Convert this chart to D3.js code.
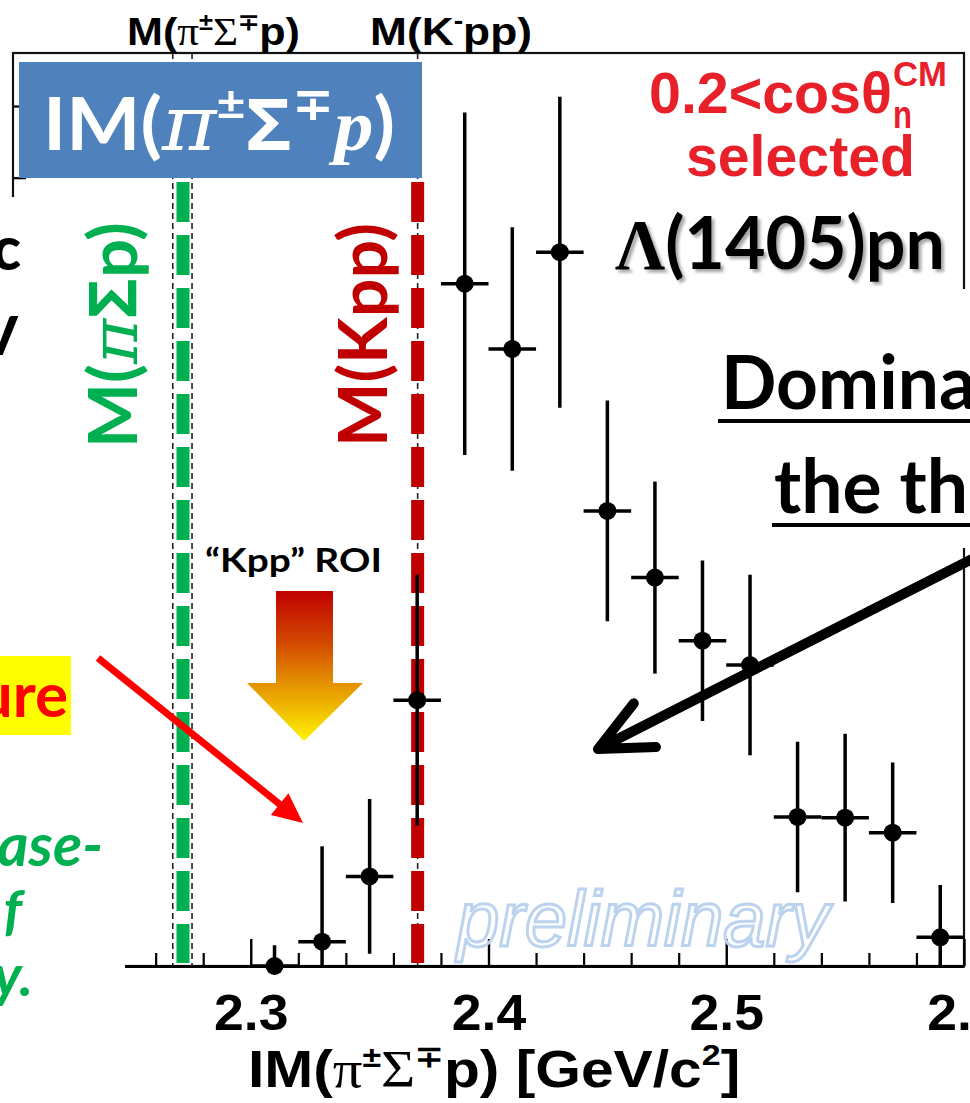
<!DOCTYPE html>
<html><head><meta charset="utf-8">
<script src="https://cdn.jsdelivr.net/npm/d3@7"></script>
<style>body{margin:0;background:#fff}svg{display:block}</style>
</head><body>
<svg id="c" width="970" height="1103"></svg>
<script>
// ---------------- data ----------------
const binCenters  = [2.31,2.33,2.35,2.37,2.39,2.41,2.43,2.45,2.47,2.49,2.51,2.53,2.55,2.57,2.59];
const counts      = [0.00,0.34,1.25,3.71,9.52,8.61,9.96,6.35,5.42,4.54,4.20,2.08,2.07,1.86,0.40];
const countErrors = [0.29,1.33,1.08,1.75,2.39,1.70,2.17,1.54,1.34,1.12,1.26,1.05,1.17,0.98,0.73];
const binHalfWidth = 0.01;
const xDomain = [2.2, 2.6];
const yDomain = [0, 12.74];
const majorTicks = [2.3, 2.4, 2.5, 2.6];
const minorTicks = [2.22,2.24,2.26,2.28,2.32,2.34,2.36,2.38,2.42,2.44,2.46,2.48,2.52,2.54,2.56,2.58];
const yTicks = [1,2,3,4,5,6,7,8,9,10,11,12];
const piSigmaPThresholds = [2.2672, 2.2753];
const piSigmaPMark = 2.2715;
const kppThreshold = 2.3702;

// ---------------- setup ----------------
const ROOT = "'Liberation Sans', Arial, Helvetica, sans-serif";
const SYM  = "'Liberation Serif', 'DejaVu Serif', serif";
const CAL  = "Lato, 'Open Sans', 'DejaVu Sans', sans-serif";
const MATH = "'DejaVu Serif', 'Liberation Serif', serif";

const svg = d3.select('#c');
svg.append('rect').attr('width',970).attr('height',1103).attr('fill','#fff');
const defs = svg.append('defs');
const grad = defs.append('linearGradient').attr('id','roiGrad').attr('gradientUnits','userSpaceOnUse')
  .attr('x1',0).attr('y1',591).attr('x2',0).attr('y2',741);
[[0,'#c00000'],[0.35,'#d24a00'],[0.62,'#e49200'],[1,'#fff200']].forEach(([o,c])=>grad.append('stop').attr('offset',o).attr('stop-color',c));
const sh = defs.append('filter').attr('id','shadow').attr('x','-10%').attr('y','-20%').attr('width','130%').attr('height','150%');
sh.append('feDropShadow').attr('dx',3).attr('dy',3).attr('stdDeviation',1.8).attr('flood-color','#000').attr('flood-opacity',0.35);

const x = d3.scaleLinear().domain(xDomain).range([13, 964]);
const y = d3.scaleLinear().domain(yDomain).range([966, 53]);

function richText(parent, parts, base){
  const t = parent.append('text').attr('font-family', base.ff).attr('font-size', base.fs)
    .attr('font-weight', base.fw || 'bold').attr('fill', base.fill || '#000');
  if (base.it) t.attr('font-style','italic');
  if (base.anchor) t.attr('text-anchor', base.anchor);
  parts.forEach(p=>{
    const s = t.append('tspan').text(p.t);
    if (p.ff) s.attr('font-family', p.ff);
    if (p.fs) s.attr('font-size', p.fs);
    if (p.fw) s.attr('font-weight', p.fw);
    if (p.it) s.attr('font-style', p.it);
    if (p.dy) s.attr('dy', p.dy);
  });
  return t;
}
function place(g, x0, x1, baseline){
  const b = g.node().getBBox();
  const s = (x1 - x0) / b.width;
  g.attr('transform', `translate(${x0 - b.x*s},${baseline}) scale(${s},1)`);
}
function placeRot(g, yBottom, yTop, baseX){
  const b = g.node().getBBox();
  const s = (yBottom - yTop) / b.width;
  g.attr('transform', `translate(${baseX},${yBottom + b.x*s}) rotate(-90) scale(${s},1)`);
}

// ---------------- frame and axes ----------------
const plot = svg.append('g');
plot.append('rect').attr('x', x(xDomain[0])).attr('y', y(yDomain[1]))
  .attr('width', x(xDomain[1]) - x(xDomain[0])).attr('height', y(yDomain[0]) - y(yDomain[1]))
  .attr('fill','none').attr('stroke','#111').attr('stroke-width',2.2);

const gMinor = plot.append('g').attr('transform',`translate(0,${y(0)})`)
  .call(d3.axisBottom(x).tickValues(minorTicks).tickSize(-13).tickSizeOuter(0).tickFormat(()=>''));
gMinor.select('.domain').remove();
gMinor.selectAll('.tick line').attr('stroke','#000').attr('stroke-width',2.2);

const gx = plot.append('g').attr('transform',`translate(0,${y(0)})`)
  .call(d3.axisBottom(x).tickValues(majorTicks).tickSize(-27).tickSizeOuter(0).tickFormat(d3.format('.1f')));
gx.select('.domain').attr('stroke','#000').attr('stroke-width',3);
gx.selectAll('.tick line').attr('stroke','#000').attr('stroke-width',2.4);
gx.selectAll('.tick text').attr('y',64).attr('dy',null).attr('fill','#000')
  .attr('font-family',ROOT).attr('font-weight','bold').attr('font-size',50)
  .attr('transform','scale(1.07,1)');

const gy = plot.append('g').attr('transform',`translate(${x(xDomain[0])},0)`)
  .call(d3.axisLeft(y).tickValues(yTicks).tickSize(-13).tickFormat(()=>''));
gy.select('.domain').remove();
gy.selectAll('.tick line').attr('stroke','#000').attr('stroke-width',2.2);

// x-axis title
const gTitle = svg.append('g');
richText(gTitle, [
  {t:'IM('},{t:'\u03C0', ff:SYM, fw:'normal'},{t:'\u00B1', fs:30, dy:-20},
  {t:'\u03A3', ff:SYM, fw:'normal', dy:20},{t:'\u2213', fs:30, dy:-20},
  {t:'p) [GeV/c', dy:20},{t:'2', fs:30, dy:-22},{t:']', dy:22}
], {ff:ROOT, fs:52});
place(gTitle, 248, 740, 1087);

// top labels
const gTop1 = svg.append('g');
richText(gTop1, [
  {t:'M('},{t:'\u03C0', ff:SYM, fw:'normal'},{t:'\u00B1', fs:23, dy:-15},
  {t:'\u03A3', ff:SYM, fw:'normal', dy:15},{t:'\u2213', fs:23, dy:-15},{t:'p)', dy:15}
], {ff:ROOT, fs:39});
place(gTop1, 127, 300, 45);
const gTop2 = svg.append('g');
richText(gTop2, [{t:'M(K'},{t:'-', fs:25, dy:-16},{t:'pp)', dy:16}], {ff:ROOT, fs:39});
place(gTop2, 370, 532, 45);

// ---------------- threshold lines ----------------
const lines = svg.append('g');
piSigmaPThresholds.concat([kppThreshold]).forEach(m=>{
  lines.append('line').attr('x1',x(m)).attr('x2',x(m)).attr('y1',y(yDomain[1])).attr('y2',y(0))
    .attr('stroke','#222').attr('stroke-width',1.6).attr('stroke-dasharray','6,4');
});
lines.append('line').attr('x1',x(piSigmaPMark)).attr('x2',x(piSigmaPMark)).attr('y1',182).attr('y2',963)
  .attr('stroke','#00b050').attr('stroke-width',13).attr('stroke-dasharray','40,13');
lines.append('line').attr('x1',x(kppThreshold)).attr('x2',x(kppThreshold)).attr('y1',182).attr('y2',963)
  .attr('stroke','#c00000').attr('stroke-width',13).attr('stroke-dasharray','40,13');

// ---------------- data ----------------
const pts = binCenters.map((c,i)=>({c, v:counts[i], e:countErrors[i]}));
const dg = svg.append('g');
dg.selectAll('line.ev').data(pts).join('line').attr('class','ev')
  .attr('x1',d=>x(d.c)).attr('x2',d=>x(d.c))
  .attr('y1',d=>y(Math.max(0, d.v - d.e))).attr('y2',d=>y(d.v + d.e))
  .attr('stroke','#000').attr('stroke-width',3.5);
dg.selectAll('line.eh').data(pts).join('line').attr('class','eh')
  .attr('x1',d=>x(d.c - binHalfWidth)).attr('x2',d=>x(d.c + binHalfWidth))
  .attr('y1',d=>y(d.v)).attr('y2',d=>y(d.v))
  .attr('stroke','#000').attr('stroke-width',3.5);
dg.selectAll('circle').data(pts).join('circle')
  .attr('cx',d=>x(d.c)).attr('cy',d=>y(d.v)).attr('r',9).attr('fill','#000');

// "preliminary"
svg.append('text').attr('x',457).attr('y',946).attr('font-family',ROOT).attr('font-style','italic')
  .attr('font-size',78).attr('fill','none').attr('stroke','#bcd3ef').attr('stroke-width',3)
  .attr('textLength',372).attr('lengthAdjust','spacingAndGlyphs').text('preliminary');

// ---------------- slide overlays ----------------
svg.append('rect').attr('x',0).attr('y',197).attr('width',125).attr('height',906).attr('fill','#fff');
svg.append('rect').attr('x',708).attr('y',289).attr('width',262).attr('height',259).attr('fill','#fff');

// blue box
svg.append('rect').attr('x',19).attr('y',62).attr('width',403).attr('height',116).attr('fill','#4f81bd');
const gBox = svg.append('g');
richText(gBox, [
  {t:'IM('},{t:'\u03C0', ff:MATH, it:'italic', fw:'normal', fs:76},{t:'\u00B1', fs:46, dy:-30},
  {t:'\u03A3', ff:"'Open Sans', 'DejaVu Sans', sans-serif", dy:30},{t:'\u2213', fs:46, dy:-30},
  {t:'p', ff:SYM, it:'italic', fw:'bold', dy:30},{t:')'}
], {ff:CAL, fs:72, fill:'#fff'});
place(gBox, 43, 395, 150);

// red selection label
const gSel1 = svg.append('g');
richText(gSel1, [{t:'0.2<cos\u03B8'}], {ff:ROOT, fs:58, fill:'#e8202a'});
place(gSel1, 649, 892, 113);
const gCM = svg.append('g');
richText(gCM, [{t:'CM'}], {ff:ROOT, fs:36, fill:'#e8202a'});
place(gCM, 893, 947, 86);
const gN = svg.append('g');
richText(gN, [{t:'n'}], {ff:ROOT, fs:38, fill:'#e8202a'});
place(gN, 893, 912, 128);
const gSel2 = svg.append('g');
richText(gSel2, [{t:'selected'}], {ff:ROOT, fs:58, fill:'#e8202a'});
place(gSel2, 686, 915, 176);

// Lambda(1405)pn
const gLam = svg.append('g');
richText(gLam, [{t:'\u039B', ff:SYM},{t:'(1405)pn'}], {ff:CAL, fs:72}).attr('filter','url(#shadow)');
place(gLam, 615, 945, 269);

// Dominant / the th (cropped at the slide edge)
const gD1 = svg.append('g');
richText(gD1, [{t:'Domina'}], {ff:CAL, fs:74});
place(gD1, 721, 976, 409);
svg.append('rect').attr('x',718).attr('y',419).attr('width',252).attr('height',4).attr('fill','#000');
const gD2 = svg.append('g');
richText(gD2, [{t:'the th'}], {ff:CAL, fs:74});
place(gD2, 774, 968, 513);
svg.append('rect').attr('x',772).attr('y',523).attr('width',198).attr('height',4).attr('fill','#000');

// rotated labels
const gGreen = svg.append('g');
richText(gGreen, [{t:'M('},{t:'\u03C0', ff:MATH, it:'italic', fw:'normal'},
  {t:'\u03A3', ff:"'Open Sans', 'DejaVu Sans', sans-serif"},{t:'p)'}], {ff:CAL, fs:66, fill:'#00b050'});
placeRot(gGreen, 448, 222, 137);
const gRed = svg.append('g');
richText(gRed, [{t:'M(Kpp)'}], {ff:CAL, fs:66, fill:'#c00000'});
placeRot(gRed, 447, 223, 387);

// "Kpp" ROI
const gRoi = svg.append('g');
richText(gRoi, [{t:'\u201CKpp\u201D ROI'}], {ff:CAL, fs:33});
place(gRoi, 205, 382, 572);
svg.append('polygon')
  .attr('points','276,591 333,591 333,683 363,683 304,741 247,683 276,683')
  .attr('fill','url(#roiGrad)');

// left cropped slide text
svg.append('text').attr('x',21).attr('y',270).attr('text-anchor','end').attr('font-family',CAL)
  .attr('font-weight','900').attr('font-size',60).attr('fill','#000').text('c');
svg.append('text').attr('x',18).attr('y',355).attr('text-anchor','end').attr('font-family',CAL)
  .attr('font-weight','900').attr('font-size',54).attr('fill','#000').text('V');
svg.append('rect').attr('x',0).attr('y',656).attr('width',71).attr('height',79).attr('fill','#ffff00');
svg.append('text').attr('x',68).attr('y',717).attr('text-anchor','end').attr('font-family',CAL)
  .attr('font-weight','bold').attr('font-size',62).attr('fill','#ff0000').text('ure');
[['ase-',103,866,60],['f',22,930,56],['y.',33,996,58]].forEach(([t,xe,b,fs])=>{
  svg.append('text').attr('x',xe).attr('y',b).attr('text-anchor','end').attr('font-family',CAL)
    .attr('font-weight','bold').attr('font-style','italic').attr('font-size',fs).attr('fill','#00b050').text(t);
});

// red arrow
(function(){
  const S=[98,658], T=[303,823];
  const dx=T[0]-S[0], dy=T[1]-S[1], L=Math.hypot(dx,dy), ux=dx/L, uy=dy/L, nx=-uy, ny=ux;
  const hl=30, hw=14, B=[T[0]-hl*ux, T[1]-hl*uy];
  svg.append('line').attr('x1',S[0]).attr('y1',S[1]).attr('x2',B[0]+2*ux).attr('y2',B[1]+2*uy)
    .attr('stroke','#ff0000').attr('stroke-width',7);
  svg.append('polygon').attr('points',`${T[0]},${T[1]} ${B[0]+hw*nx},${B[1]+hw*ny} ${B[0]-hw*nx},${B[1]-hw*ny}`)
    .attr('fill','#ff0000');
})();

// black arrow
(function(){
  const S=[978,556], T=[598,749];
  const ang=Math.atan2(S[1]-T[1], S[0]-T[0]), a=25*Math.PI/180, L=58;
  const p1=[T[0]+L*Math.cos(ang+a), T[1]+L*Math.sin(ang+a)];
  const p2=[T[0]+L*Math.cos(ang-a), T[1]+L*Math.sin(ang-a)];
  svg.append('path').attr('d',`M${S[0]},${S[1]}L${T[0]},${T[1]}M${p1[0]},${p1[1]}L${T[0]},${T[1]}L${p2[0]},${p2[1]}`)
    .attr('fill','none').attr('stroke','#000').attr('stroke-width',10)
    .attr('stroke-linecap','round').attr('stroke-linejoin','round');
})();
</script>
</body></html>
